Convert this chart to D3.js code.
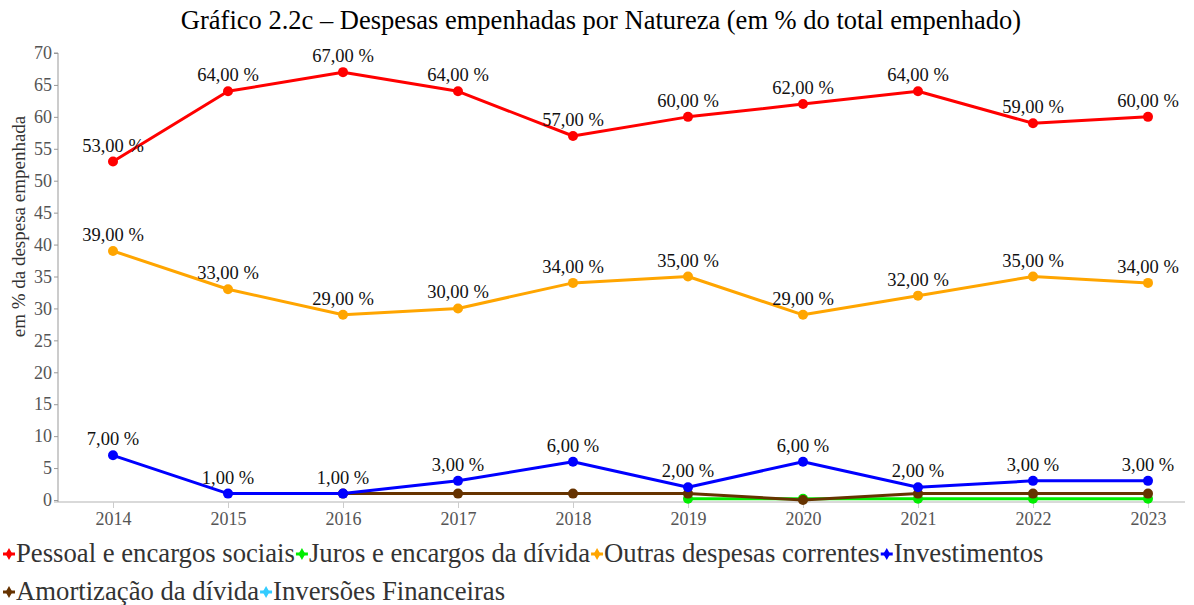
<!DOCTYPE html>
<html>
<head>
<meta charset="utf-8">
<script src="https://cdn.jsdelivr.net/npm/d3@7"></script>
<style>
  body { margin: 0; background: #fff; }
  text { font-family: "Liberation Serif", "Times New Roman", serif; }
</style>
</head>
<body>
<div id="chart"></div>
<script>
var years = ["2014", "2015", "2016", "2017", "2018", "2019", "2020", "2021", "2022", "2023"];
var seriesNames = ["Pessoal e encargos sociais", "Juros e encargos da dívida", "Outras despesas correntes",
  "Investimentos", "Amortização da dívida", "Inversões Financeiras"];
var seriesColors = ["#ff0000", "#00ee00", "#ffa500", "#0000ff", "#663300", "#33ccff"];
var pessoal = [53, 64, 67, 64, 57, 60, 62, 64, 59, 60];
var juros = [null, null, null, null, null, 0.2, 0.2, 0.2, 0.2, 0.2];
var outras = [39, 33, 29, 30, 34, 35, 29, 32, 35, 34];
var investimentos = [7, 1, 1, 3, 6, 2, 6, 2, 3, 3];
var amortizacao = [null, null, 1, 1, 1, 1, 0, 1, 1, 1];
var inversoes = [null, null, null, null, null, null, null, null, null, null];
var labelled = [true, false, true, true, false, false];
var yTicks = [0, 5, 10, 15, 20, 25, 30, 35, 40, 45, 50, 55, 60, 65, 70];

var allSeries = [pessoal, juros, outras, investimentos, amortizacao, inversoes];
// drawing order (last on top)
var drawOrder = [1, 5, 4, 2, 0, 3];

var W = 1194, H = 605;
var margin = { top: 53, right: 9, bottom: 105, left: 58 };
var width = W - margin.left - margin.right,
  height = H - margin.top - margin.bottom;

var svg = d3.select("#chart").append("svg")
  .attr("width", W).attr("height", H);

// title
svg.append("text")
  .attr("x", W / 2 + 4).attr("y", 29)
  .attr("text-anchor", "middle")
  .attr("font-size", "26.5px")
  .attr("fill", "#000")
  .text("Gráfico 2.2c – Despesas empenhadas por Natureza (em % do total empenhado)");

var g = svg.append("g")
  .attr("transform", "translate(" + margin.left + "," + margin.top + ")");

var x = d3.scalePoint().domain(years).range([55, width - 37]);
var y = d3.scaleLinear().domain([0, 70]).range([height, 0]);

// x axis
var xAxis = g.append("g")
  .attr("transform", "translate(0," + (height + 2) + ")")
  .call(d3.axisBottom(x).tickSize(6).tickPadding(4));
xAxis.select(".domain").attr("stroke", "#ccc").attr("stroke-width", 1.5)
  .attr("d", "M-4,0H" + width);
xAxis.selectAll(".tick line").attr("stroke", "#ccc");
xAxis.selectAll("text").attr("font-size", "18px").attr("fill", "#555")
  .attr("font-family", "Liberation Serif");

// y axis
var yAxis = g.append("g")
  .call(d3.axisLeft(y).tickValues(yTicks).tickSize(4).tickPadding(2));
yAxis.select(".domain").attr("stroke", "#999").attr("d", "M-4," + y(70) + "H0V" + (height + 2));
yAxis.selectAll(".tick line").attr("stroke", "#999");
yAxis.selectAll("text").attr("font-size", "18px").attr("fill", "#555")
  .attr("font-family", "Liberation Serif");

// y axis label
g.append("text")
  .attr("transform", "rotate(-90)")
  .attr("x", -height / 2 + 50).attr("y", -33)
  .attr("text-anchor", "middle")
  .attr("font-size", "19px")
  .attr("fill", "#333")
  .text("em % da despesa empenhada");

var line = d3.line()
  .defined(function (d) { return d != null; })
  .x(function (d, i) { return x(years[i]); })
  .y(function (d) { return y(d); });

drawOrder.forEach(function (s) {
  var vals = allSeries[s];
  g.append("path")
    .datum(vals)
    .attr("fill", "none")
    .attr("stroke", seriesColors[s])
    .attr("stroke-width", 3)
    .attr("stroke-linejoin", "round")
    .attr("d", line);

  var pts = vals.map(function (v, i) { return { v: v, year: years[i] }; })
    .filter(function (d) { return d.v != null; });

  g.selectAll(".dot" + s)
    .data(pts)
    .enter().append("circle")
    .attr("cx", function (d) { return x(d.year); })
    .attr("cy", function (d) { return y(d.v); })
    .attr("r", 5)
    .attr("fill", seriesColors[s]);
});

// data labels on top
allSeries.forEach(function (vals, s) {
  if (!labelled[s]) return;
  var pts = vals.map(function (v, i) { return { v: v, year: years[i] }; })
    .filter(function (d) { return d.v != null; });
  g.selectAll(".lab" + s)
    .data(pts)
    .enter().append("text")
    .attr("x", function (d) { return x(d.year); })
    .attr("y", function (d) { return y(d.v) - 10; })
    .attr("text-anchor", "middle")
    .attr("font-size", "18.5px")
    .attr("fill", "#111")
    .text(function (d) { return d.v.toFixed(2).replace(".", ",") + " %"; });
});

// legend
var rows = [[0, 1, 2, 3], [4, 5]];
rows.forEach(function (row, r) {
  var lx = 3;
  var ly = 562 + r * 38;
  row.forEach(function (s) {
    var item = svg.append("g").attr("transform", "translate(" + lx + "," + ly + ")");
    item.append("line")
      .attr("x1", 0).attr("x2", 12).attr("y1", -8).attr("y2", -8)
      .attr("stroke", seriesColors[s]).attr("stroke-width", 3);
    item.append("path")
      .attr("d", d3.symbol().type(d3.symbolDiamond).size(40)())
      .attr("transform", "translate(6,-8)")
      .attr("fill", seriesColors[s]);
    var t = item.append("text")
      .attr("x", 13).attr("y", 0)
      .attr("font-size", "26.7px")
      .attr("fill", "#333")
      .text(seriesNames[s]);
    lx += 13 + t.node().getComputedTextLength() + 1;
  });
});
</script>
</body>
</html>
